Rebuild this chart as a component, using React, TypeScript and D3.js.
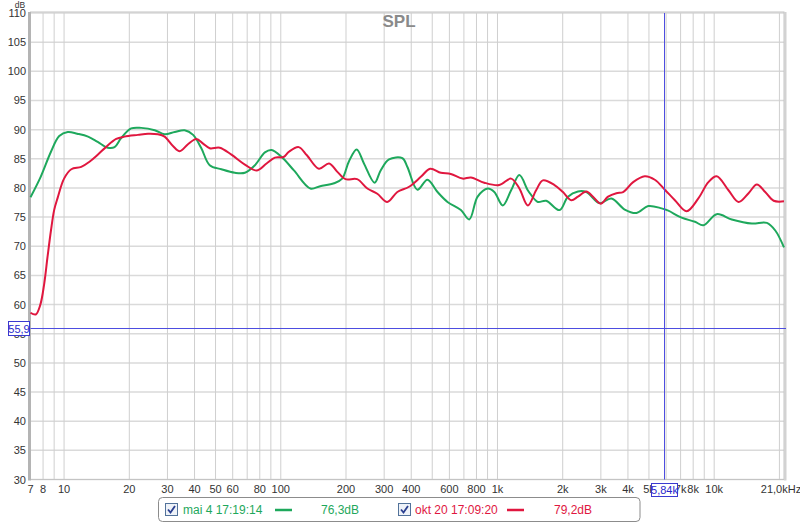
import * as d3 from 'd3';

// measurement "mai 4 17:19:14" (green)
const greenFreq = [7, 7.8, 8.7, 9.5, 10.4, 11.5, 12.9, 14.3, 15.9, 17.1, 18.3, 20.4, 22.7, 26.2, 29.1, 32.4, 36, 39.4, 43, 47, 53.2, 61.4, 68.3, 76, 84.5, 90.7, 101, 115, 137, 152, 176, 192, 206, 224, 242, 271, 289, 316, 364, 384, 427, 475, 529, 588, 678, 741, 810, 901, 967, 1058, 1156, 1262, 1380, 1430, 1536, 1678, 1933, 2115, 2352, 2570, 2962, 3355, 3865, 4381, 4962, 5716, 6141, 7075, 8153, 8920, 10275, 12055, 14925, 17515, 19140, 21000];
const greenDb = [78.4, 81.9, 86.2, 88.9, 89.6, 89.3, 88.8, 87.9, 86.9, 87.0, 88.5, 90.2, 90.3, 89.9, 89.2, 89.6, 89.9, 89.1, 86.8, 83.9, 83.2, 82.6, 82.6, 83.9, 86.1, 86.5, 85.3, 83.0, 79.9, 80.3, 80.8, 81.6, 84.5, 86.6, 84.2, 80.9, 83.0, 84.9, 85.1, 83.6, 79.7, 81.4, 79.3, 77.6, 76.2, 74.6, 78.5, 79.9, 79.3, 77.0, 79.6, 82.2, 79.6, 78.8, 77.6, 77.8, 76.2, 78.5, 79.4, 79.3, 77.4, 78.2, 76.3, 75.7, 76.9, 76.5, 76.1, 74.9, 74.2, 73.6, 75.5, 74.6, 73.9, 74.0, 72.7, 69.8];

// measurement "okt 20 17:09:20" (red)
const redFreq = [7, 7.4, 7.76, 8.1, 8.39, 8.7, 9.0, 9.34, 10.0, 10.8, 12.0, 13.1, 14.3, 15.6, 17.4, 19.0, 21.9, 24.4, 27.1, 29.1, 31.8, 34.2, 37.3, 40.8, 43.8, 47, 52.3, 59.2, 68.3, 77.3, 86, 94, 103, 109, 121, 132, 150, 167, 182, 199, 225, 251, 279, 310, 345, 391, 443, 489, 548, 609, 690, 754, 869, 1020, 1156, 1262, 1380, 1508, 1620, 1833, 2005, 2190, 2352, 2570, 2760, 2993, 3239, 3538, 3800, 4227, 4784, 5322, 5921, 6588, 7462, 8453, 9404, 10275, 11642, 12951, 14409, 15738, 17200, 18810, 21000];
const redDb = [58.6, 58.3, 59.9, 63.6, 68.2, 72.7, 76.2, 78.3, 81.6, 83.2, 83.6, 84.5, 85.7, 87.0, 88.4, 88.8, 89.1, 89.3, 89.2, 88.8, 87.2, 86.3, 87.5, 88.4, 87.6, 86.8, 86.9, 85.7, 84.0, 83.0, 84.2, 85.2, 85.3, 86.2, 87.0, 85.6, 83.3, 84.2, 82.8, 81.5, 81.5, 79.9, 79.0, 77.6, 79.3, 80.2, 81.9, 83.3, 82.6, 82.4, 81.6, 81.8, 80.9, 80.5, 81.6, 79.9, 77.0, 79.6, 81.3, 80.5, 79.3, 77.9, 78.5, 79.4, 78.5, 77.3, 78.5, 79.1, 79.3, 81.0, 82.0, 81.4, 79.7, 77.9, 76.0, 78.2, 81.0, 82.0, 79.6, 77.6, 79.1, 80.6, 79.3, 77.8, 77.7];

const xTickFreqs = [7, 8, 10, 20, 30, 40, 50, 60, 80, 100, 200, 300, 400, 600, 800, 1000, 2000, 3000, 4000, 5000, 7000, 8000, 10000];
const xTickLabels = ['7', '8', '10', '20', '30', '40', '50', '60', '80', '100', '200', '300', '400', '600', '800', '1k', '2k', '3k', '4k', '5k', '7k', '8k', '10k'];
const yTicks = d3.range(30, 111, 5);

const cursorFreq = 5840;
const cursorDb = 55.9;

const GREEN = '#1ea85c';
const RED = '#e0173f';
const CURSOR = '#4d4de0';
const FONT = '"Liberation Sans", Arial, sans-serif';

const left = 30.5;
const right = 784;
const top = 13;
const bottom = 479.5;

export default function App() {
  const x = d3.scaleLog().domain([7, 21000]).range([left, right]);
  const y = d3.scaleLinear().domain([30, 110]).range([bottom, top]);

  // vertical grid at 1..9 of every decade
  const gridFreqs: number[] = [];
  [1, 10, 100, 1000, 10000].forEach((dec) => {
    for (let m = 1; m <= 9; m++) {
      const f = dec * m;
      if (f > 7 && f < 21000) gridFreqs.push(f);
    }
  });

  const line = d3
    .line<[number, number]>()
    .x((d) => x(d[0]))
    .y((d) => y(d[1]))
    .curve(d3.curveCatmullRom.alpha(0.5));

  const greenPath = line(d3.zip(greenFreq, greenDb) as [number, number][]) || '';
  const redPath = line(d3.zip(redFreq, redDb) as [number, number][]) || '';

  // snap cursor lines to the pixel grid so they stay crisp
  const cx = Math.round(x(cursorFreq)) + 0.5;
  const cy = Math.round(y(cursorDb)) + 0.5;

  const checkbox = (bx: number, by: number) => (
    <g transform={`translate(${bx},${by})`}>
      <rect x={0.5} y={0.5} width={12} height={12} fill="#eef2f8" stroke="#52729a" />
      <path d="M3,6.5 L5.5,9.5 L10,3" fill="none" stroke="#2a3f8f" strokeWidth={1.8} />
    </g>
  );

  return (
    <svg
      width={800}
      height={523}
      style={{ position: 'absolute', left: 0, top: 0, background: '#fff', fontFamily: FONT }}
    >
      <rect x={0} y={0} width={800} height={523} fill="#fff" />

      {/* horizontal grid */}
      {yTicks.map((t) => (
        <line key={'h' + t} x1={left} x2={right} y1={y(t)} y2={y(t)} stroke="#dadada" strokeWidth={1.5} />
      ))}
      {/* vertical grid */}
      {gridFreqs.map((f) => (
        <line key={'v' + f} x1={x(f)} x2={x(f)} y1={top} y2={bottom} stroke="#cfcfcf" strokeWidth={1} />
      ))}

      {/* frame */}
      <rect x={left} y={top - 1} width={right - left} height={bottom - top + 1} fill="none" stroke="#c4c4c4" strokeWidth={1} />
      <rect x={28} y={top - 1} width={3} height={bottom - top + 2} fill="#b4b4b4" />
      <rect x={right} y={top - 1} width={2.5} height={bottom - top + 2} fill="#d2d2d2" />

      {/* y labels */}
      <text x={20} y={8} fontSize={8.5} fill="#333" textAnchor="middle">dB</text>
      {yTicks.map((t) => (
        <text key={'yl' + t} x={26} y={y(t) + 4} fontSize={11} fill="#333" textAnchor="end">
          {t}
        </text>
      ))}

      {/* x labels */}
      {xTickFreqs.map((f, i) => (
        <text key={'xl' + f} x={x(f)} y={493} fontSize={11} fill="#333" textAnchor="middle">
          {xTickLabels[i]}
        </text>
      ))}
      <text x={781} y={493} fontSize={11} fill="#333" textAnchor="middle">21,0kHz</text>

      {/* title */}
      <text x={399} y={27} fontSize={17} fontWeight="bold" fill="#8a8a8a" textAnchor="middle">SPL</text>

      {/* curves */}
      <path d={greenPath} fill="none" stroke={GREEN} strokeWidth={2} />
      <path d={redPath} fill="none" stroke={RED} strokeWidth={2} />

      {/* cursor */}
      <line x1={left} x2={right + 2} y1={cy} y2={cy} stroke={CURSOR} strokeWidth={1} />
      <line x1={cx} x2={cx} y1={top} y2={bottom} stroke={CURSOR} strokeWidth={1} />
      <rect x={8.5} y={cy - 7} width={21} height={14} fill="#fff" stroke="#3a3ad0" />
      <text x={19} y={cy + 4} fontSize={11} fill="#2a2acc" textAnchor="middle">55,9</text>
      <rect x={cx - 13} y={483.5} width={26} height={13} fill="#fff" stroke="#3a3ad0" />
      <text x={cx} y={494} fontSize={11} fill="#2a2acc" textAnchor="middle">5,84k</text>

      {/* legend */}
      <rect x={158.5} y={497.5} width={481.5} height={24} rx={4} fill="#fff" stroke="#8c8c8c" />
      {checkbox(165, 503)}
      <text x={183} y={514} fontSize={12} fill={GREEN}>mai 4 17:19:14</text>
      <line x1={275} x2={292} y1={510} y2={510} stroke={GREEN} strokeWidth={2.5} />
      <text x={359} y={514} fontSize={12} fill={GREEN} textAnchor="end">76,3dB</text>
      {checkbox(398, 503)}
      <text x={415} y={514} fontSize={12} fill={RED}>okt 20 17:09:20</text>
      <line x1={507} x2={524} y1={510} y2={510} stroke={RED} strokeWidth={2.5} />
      <text x={592} y={514} fontSize={12} fill={RED} textAnchor="end">79,2dB</text>
    </svg>
  );
}
